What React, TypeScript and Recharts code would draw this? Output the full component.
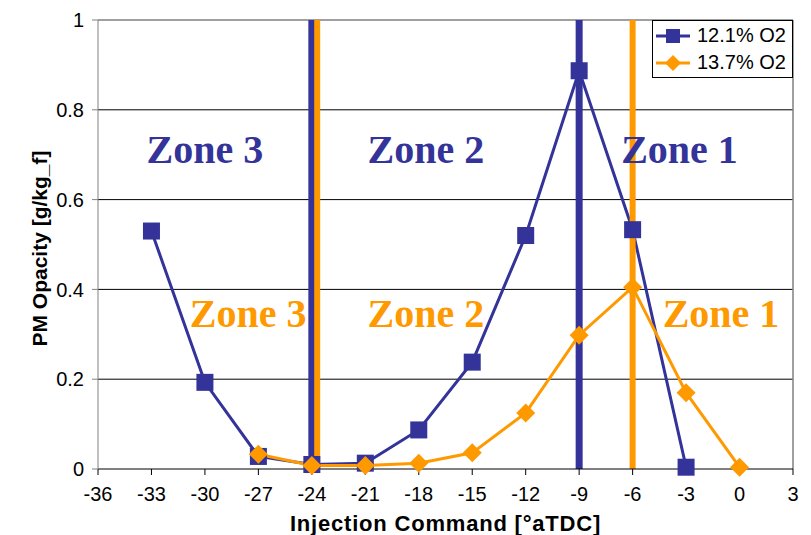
import {
  Legend,
  Line,
  LineChart,
  CartesianGrid,
  ReferenceDot,
  ReferenceLine,
  XAxis,
  YAxis,
} from "recharts";

const injection = [-33, -30, -27, -24, -21, -18, -15, -12, -9, -6, -3, 0];
const pm121 = [0.53, 0.193, 0.028, 0.01, 0.013, 0.087, 0.238, 0.52, 0.887, 0.533, 0.004, null];
const pm137 = [null, null, 0.033, 0.008, 0.008, 0.013, 0.036, 0.125, 0.298, 0.405, 0.17, 0.004];

const xTicks = [-36, -33, -30, -27, -24, -21, -18, -15, -12, -9, -6, -3, 0, 3];
const yTicks = [0, 0.2, 0.4, 0.6, 0.8, 1];

// zone boundaries drawn as thick vertical bars
const bounds121 = [-24, -9];
const bounds137 = [-23.7, -6];

const zoneNames = ["Zone 3", "Zone 2", "Zone 1"];
const zoneX121 = [-30, -17.6, -3.37];
const zoneX137 = [-27.58, -17.6, -1.04];
const zoneY121 = 0.713;
const zoneY137 = 0.348;

const BLUE = "#333399";
const ORANGE = "#FF9900";
const SANS = "'Liberation Sans', Arial, sans-serif";
const SERIF = "'Liberation Serif', 'Times New Roman', serif";

const toSeries = (vals: (number | null)[]) =>
  injection
    .map((x, i) => ({ x, y: vals[i] }))
    .filter((d) => d.y !== null);

const series121 = toSeries(pm121);
const series137 = toSeries(pm137);

const barData = (x: number) => [
  { x, y: 0 },
  { x, y: 1 },
];

function Square(props: any) {
  const { cx, cy, index } = props;
  if (cx == null || cy == null) return <g key={index} />;
  return <rect key={index} x={cx - 8.5} y={cy - 8.5} width={17} height={17} fill={BLUE} />;
}

function Diamond(props: any) {
  const { cx, cy, index } = props;
  if (cx == null || cy == null) return <g key={index} />;
  const r = 9.5;
  return (
    <path
      key={index}
      d={`M${cx},${cy - r}L${cx + r},${cy}L${cx},${cy + r}L${cx - r},${cy}Z`}
      fill={ORANGE}
    />
  );
}

function LegendBox() {
  const rows = [
    { name: "12.1% O2", color: BLUE, shape: "square" },
    { name: "13.7% O2", color: ORANGE, shape: "diamond" },
  ];
  return (
    <div
      style={{
        border: "1px solid #000",
        background: "#fff",
        width: 141,
        height: 58,
        boxSizing: "border-box",
        padding: "1px 0 0 3px",
        fontFamily: SANS,
        fontSize: 20,
        lineHeight: "27px",
      }}
    >
      {rows.map((r) => (
        <div key={r.name} style={{ display: "flex", alignItems: "center", height: 27 }}>
          <svg width={36} height={20} style={{ marginRight: 5 }}>
            <line x1={0} y1={10} x2={34} y2={10} stroke={r.color} strokeWidth={3} />
            {r.shape === "square" ? (
              <rect x={10} y={3} width={14} height={14} fill={r.color} />
            ) : (
              <path d="M17,2L25,10L17,18L9,10Z" fill={r.color} />
            )}
          </svg>
          <span>{r.name}</span>
        </div>
      ))}
    </div>
  );
}

function YTitle(props: any) {
  const { viewBox } = props;
  const cy = viewBox.y + viewBox.height / 2 + 4;
  return (
    <text
      x={39}
      y={cy}
      transform={`rotate(-90, 39, ${cy})`}
      textAnchor="middle"
      dominantBaseline="central"
      fontFamily={SANS}
      fontWeight="bold"
      fontSize={21}
      fill="#000"
    >
      PM Opacity [g/kg_f]
    </text>
  );
}

function XTitle(props: any) {
  const { viewBox } = props;
  const cx = viewBox.x + viewBox.width / 2;
  return (
    <text
      x={cx}
      y={531}
      textAnchor="middle"
      fontFamily={SANS}
      fontWeight="bold"
      fontSize={22}
      letterSpacing={0.8}
      fill="#000"
    >
      Injection Command [°aTDC]
    </text>
  );
}

export default function App() {
  return (
    <div style={{ position: "absolute", left: 0, top: 0, background: "#fff" }}>
      <LineChart
        width={811}
        height={535}
        margin={{ top: 20, right: 18, bottom: 0, left: 0 }}
      >
        <CartesianGrid
          vertical={false}
          stroke="#000"
          strokeWidth={1}
          horizontalValues={[0.2, 0.4, 0.6, 0.8]}
        />
        <XAxis
          type="number"
          dataKey="x"
          domain={[-36, 3]}
          ticks={xTicks}
          allowDuplicatedCategory={false}
          height={66}
          stroke="#000"
          tickSize={6}
          tickMargin={12}
          tick={{ fill: "#000", fontSize: 20, fontFamily: SANS }}
          label={<XTitle />}
        />
        <YAxis
          type="number"
          domain={[0, 1]}
          ticks={yTicks}
          width={98}
          stroke="#808080"
          tickSize={6}
          tickMargin={8}
          tick={{ fill: "#000", fontSize: 20, fontFamily: SANS }}
          tickFormatter={(v: number) => String(v)}
          label={<YTitle />}
        />
        <ReferenceLine y={1} stroke="#808080" strokeWidth={1.5} />
        <ReferenceLine x={3} stroke="#808080" strokeWidth={1.5} />

        <Line
          data={series121}
          dataKey="y"
          name="12.1% O2"
          stroke={BLUE}
          strokeWidth={3}
          dot={Square}
          activeDot={false}
          isAnimationActive={false}
        />
        {bounds121.map((b) => (
          <Line
            key={`b121-${b}`}
            data={barData(b)}
            dataKey="y"
            stroke={BLUE}
            strokeWidth={7}
            dot={false}
            activeDot={false}
            legendType="none"
            isAnimationActive={false}
          />
        ))}
        {bounds137.map((b) => (
          <Line
            key={`b137-${b}`}
            data={barData(b)}
            dataKey="y"
            stroke={ORANGE}
            strokeWidth={6}
            dot={false}
            activeDot={false}
            legendType="none"
            isAnimationActive={false}
          />
        ))}
        <Line
          data={series137}
          dataKey="y"
          name="13.7% O2"
          stroke={ORANGE}
          strokeWidth={3}
          dot={Diamond}
          activeDot={false}
          isAnimationActive={false}
        />

        {zoneNames.map((z, i) => (
          <ReferenceDot
            key={`z121-${i}`}
            x={zoneX121[i]}
            y={zoneY121}
            r={0}
            fill="none"
            stroke="none"
            label={{
              value: z,
              position: "center",
              fill: BLUE,
              fontSize: 40,
              fontWeight: "bold",
              fontFamily: SERIF,
            }}
          />
        ))}
        {zoneNames.map((z, i) => (
          <ReferenceDot
            key={`z137-${i}`}
            x={zoneX137[i]}
            y={zoneY137}
            r={0}
            fill="none"
            stroke="none"
            label={{
              value: z,
              position: "center",
              fill: ORANGE,
              fontSize: 40,
              fontWeight: "bold",
              fontFamily: SERIF,
            }}
          />
        ))}

        <Legend
          content={<LegendBox />}
          layout="vertical"
          verticalAlign="middle"
          align="center"
          wrapperStyle={{ left: 652, top: 20, width: 141, right: "auto", bottom: "auto" }}
        />
      </LineChart>
    </div>
  );
}
